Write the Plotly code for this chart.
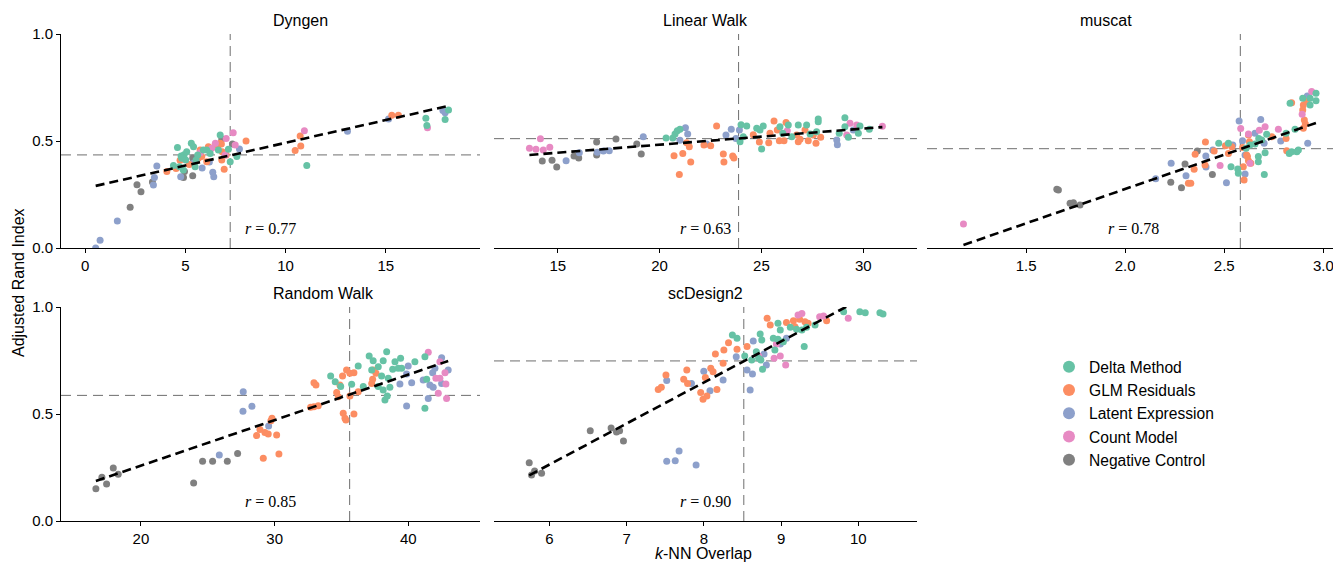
import plotly.graph_objects as go

W, H = 1341, 563

panels = ["Dyngen", "Linear Walk", "muscat", "Random Walk", "scDesign2"]
methods = ["Delta Method", "GLM Residuals", "Latent Expression", "Count Model", "Negative Control"]
method_colors = ["#66c2a5", "#fc8d62", "#8da0cb", "#e78ac3", "#808080"]

# ---------------- Dyngen ----------------
dyn_delta_x = [4.41, 4.61, 4.71, 4.79, 4.94, 5.02, 5.30, 5.41, 5.49, 5.54, 5.62, 6.07, 6.24, 6.74, 7.15, 7.24, 7.57,
               11.06, 17.00, 17.05, 17.96, 18.13, 4.90, 5.07, 5.90, 6.65, 4.82]
dyn_delta_y = [0.386, 0.470, 0.380, 0.430, 0.436, 0.411, 0.489, 0.473, 0.380, 0.411, 0.435, 0.458, 0.442, 0.528, 0.461,
               0.403, 0.427, 0.386, 0.606, 0.573, 0.601, 0.645, 0.364, 0.450, 0.458, 0.458, 0.419]
dyn_glm_x = [4.08, 4.54, 4.74, 5.20, 5.65, 5.74, 5.82, 6.07, 6.15, 6.49, 6.65, 6.74, 6.80, 6.82, 6.84, 6.94, 7.04, 8.03,
             10.48, 10.73, 10.76, 15.30, 15.63]
dyn_glm_y = [0.357, 0.372, 0.410, 0.390, 0.419, 0.458, 0.427, 0.403, 0.473, 0.481, 0.481, 0.489, 0.486, 0.411, 0.450,
             0.368, 0.435, 0.500, 0.456, 0.523, 0.477, 0.620, 0.620]
dyn_latent_x = [0.53, 0.75, 1.61, 3.41, 3.46, 3.58, 4.77, 5.41, 5.84, 6.20, 6.37, 6.42, 7.70, 13.09, 15.14, 17.85, 17.96]
dyn_latent_y = [0.000, 0.036, 0.126, 0.294, 0.330, 0.383, 0.333, 0.396, 0.374, 0.402, 0.354, 0.333, 0.463, 0.545, 0.603,
                0.642, 0.632]
dyn_count_x = [5.74, 6.32, 6.50, 6.99, 7.04, 7.39, 7.49, 10.94, 17.08]
dyn_count_y = [0.445, 0.466, 0.489, 0.435, 0.512, 0.539, 0.481, 0.548, 0.562]
dyn_neg_x = [2.25, 2.59, 2.79, 3.36, 4.91, 4.96, 5.37, 5.37, 6.82, 7.35]
dyn_neg_y = [0.190, 0.296, 0.263, 0.308, 0.330, 0.358, 0.338, 0.420, 0.509, 0.486]

# ---------------- Linear Walk ----------------
lin_delta_x = [20.32, 20.65, 20.76, 20.87, 21.00, 23.95, 24.00, 24.11, 24.28, 24.77, 24.93, 25.01, 25.09, 25.91, 26.05,
               26.32, 26.49, 26.81, 27.22, 27.39, 27.71, 27.79, 27.79, 28.82, 29.10, 29.10, 29.27, 29.76, 29.84, 30.30]
lin_delta_y = [0.514, 0.514, 0.533, 0.548, 0.555, 0.497, 0.576, 0.520, 0.570, 0.559, 0.551, 0.463, 0.570, 0.567, 0.536,
               0.575, 0.520, 0.575, 0.575, 0.533, 0.543, 0.603, 0.590, 0.536, 0.609, 0.567, 0.517, 0.536, 0.570, 0.555]
lin_glm_x = [20.71, 20.97, 21.14, 21.33, 21.46, 21.53, 22.18, 22.51, 22.80, 23.13, 23.16, 23.59, 23.65, 24.60, 24.90,
             25.36, 25.42, 25.62, 25.78, 25.88, 26.11, 26.21, 26.73, 26.81, 26.90, 27.14, 27.30, 27.55, 27.68, 27.91]
lin_glm_y = [0.431, 0.343, 0.442, 0.492, 0.473, 0.402, 0.481, 0.478, 0.570, 0.439, 0.402, 0.430, 0.421, 0.529, 0.495,
             0.492, 0.536, 0.593, 0.551, 0.501, 0.501, 0.586, 0.528, 0.497, 0.508, 0.551, 0.501, 0.528, 0.489, 0.517]
lin_latent_x = [15.41, 16.06, 16.94, 17.24, 17.53, 19.20, 21.00, 21.27, 21.38, 22.31, 23.26, 23.52, 23.75, 23.92, 28.70,
                28.73, 29.51]
lin_latent_y = [0.408, 0.445, 0.447, 0.453, 0.455, 0.520, 0.503, 0.562, 0.533, 0.486, 0.528, 0.555, 0.512, 0.551, 0.505,
                0.483, 0.551]
lin_count_x = [13.61, 13.93, 14.15, 14.29, 14.61, 26.27, 29.19, 29.35, 29.68, 30.94]
lin_count_y = [0.466, 0.461, 0.511, 0.458, 0.471, 0.548, 0.528, 0.583, 0.575, 0.569]
lin_neg_x = [14.24, 14.72, 14.95, 15.80, 16.03, 16.91, 16.91, 17.86, 18.88, 19.10]
lin_neg_y = [0.407, 0.410, 0.379, 0.430, 0.421, 0.495, 0.435, 0.509, 0.486, 0.439]

# ---------------- muscat ----------------
mus_delta_x = [2.472, 2.521, 2.534, 2.568, 2.571, 2.610, 2.630, 2.655, 2.672, 2.672, 2.674, 2.689, 2.702, 2.706, 2.714,
               2.812, 2.828, 2.840, 2.857, 2.866, 2.874, 2.832, 2.896, 2.933, 2.963, 2.963, 2.933]
mus_delta_y = [0.489, 0.489, 0.380, 0.369, 0.349, 0.466, 0.481, 0.486, 0.427, 0.403, 0.512, 0.505, 0.343, 0.445, 0.531,
               0.536, 0.442, 0.450, 0.555, 0.450, 0.458, 0.676, 0.700, 0.700, 0.723, 0.688, 0.668]
mus_glm_x = [2.319, 2.331, 2.348, 2.353, 2.403, 2.405, 2.449, 2.506, 2.521, 2.538, 2.593, 2.596, 2.600, 2.613, 2.617,
             2.622, 2.627, 2.634, 2.622, 2.740, 2.812, 2.815, 2.840, 2.899, 2.896, 2.904, 2.909, 2.916, 2.899]
mus_glm_y = [0.302, 0.302, 0.368, 0.438, 0.388, 0.495, 0.453, 0.478, 0.442, 0.473, 0.470, 0.380, 0.318, 0.435, 0.427,
             0.408, 0.497, 0.396, 0.528, 0.520, 0.512, 0.455, 0.679, 0.668, 0.645, 0.598, 0.579, 0.684, 0.559]
mus_latent_x = [2.154, 2.232, 2.307, 2.407, 2.408, 2.442, 2.511, 2.543, 2.575, 2.592, 2.605, 2.605, 2.655, 2.684,
                2.701, 2.785, 2.921, 2.919]
mus_latent_y = [0.324, 0.396, 0.338, 0.430, 0.379, 0.458, 0.305, 0.481, 0.593, 0.501, 0.435, 0.346, 0.536, 0.601,
                0.489, 0.500, 0.489, 0.710]
mus_count_x = [1.184, 2.479, 2.583, 2.622, 2.630, 2.677, 2.706, 2.773, 2.893, 2.941]
mus_count_y = [0.112, 0.386, 0.558, 0.533, 0.396, 0.550, 0.567, 0.555, 0.625, 0.731]
mus_neg_x = [1.655, 1.663, 1.722, 1.739, 1.772, 2.230, 2.284, 2.302, 2.364, 2.440]
mus_neg_y = [0.274, 0.271, 0.209, 0.212, 0.201, 0.307, 0.282, 0.393, 0.453, 0.344]

# ---------------- Random Walk ----------------
rw_delta_x = [34.19, 34.53, 34.94, 35.76, 36.25, 36.63, 37.07, 37.37, 37.26, 37.75, 37.75, 38.00, 38.12, 38.12, 38.25,
              38.38, 38.42, 38.50, 38.62, 38.83, 39.00, 39.24, 39.42, 39.50, 40.49, 41.24, 41.24, 41.37]
rw_delta_y = [0.678, 0.651, 0.628, 0.639, 0.724, 0.628, 0.771, 0.749, 0.706, 0.721, 0.628, 0.678, 0.749, 0.612, 0.565,
              0.791, 0.584, 0.667, 0.625, 0.709, 0.744, 0.714, 0.760, 0.714, 0.744, 0.768, 0.527, 0.662]
rw_glm_x = [28.65, 28.90, 29.15, 29.27, 29.52, 29.80, 29.72, 30.15, 30.32, 32.69, 32.94, 33.26, 32.94, 33.09, 34.64,
            34.76, 34.88, 35.08, 35.38, 35.63, 35.93, 35.13, 35.26, 35.33, 35.63, 35.93, 36.25, 37.33, 37.37, 37.26, 37.58]
rw_glm_y = [0.399, 0.428, 0.293, 0.413, 0.407, 0.480, 0.469, 0.402, 0.313, 0.531, 0.534, 0.539, 0.646, 0.636, 0.600,
            0.581, 0.636, 0.678, 0.706, 0.690, 0.693, 0.503, 0.480, 0.472, 0.584, 0.500, 0.604, 0.662, 0.706, 0.643, 0.690]
rw_latent_x = [25.86, 27.65, 27.63, 28.30, 29.55, 39.37, 39.87, 39.99, 39.87, 40.25, 41.11, 41.49, 41.61, 41.86, 41.82,
               41.99, 42.49, 42.49, 42.98]
rw_latent_y = [0.308, 0.604, 0.513, 0.536, 0.444, 0.640, 0.537, 0.724, 0.687, 0.646, 0.659, 0.573, 0.636, 0.625, 0.693,
               0.714, 0.763, 0.643, 0.706]
rw_count_x = [41.49, 42.06, 42.36, 42.24, 42.74, 42.81, 42.86, 42.36]
rw_count_y = [0.788, 0.667, 0.667, 0.597, 0.693, 0.640, 0.573, 0.744]
rw_neg_x = [16.63, 17.08, 17.43, 17.93, 18.30, 23.94, 24.61, 25.36, 26.46, 27.23]
rw_neg_y = [0.151, 0.204, 0.173, 0.248, 0.218, 0.178, 0.279, 0.279, 0.279, 0.316]

# ---------------- scDesign2 ----------------
scd_delta_x = [8.37, 8.43, 8.53, 8.62, 8.68, 8.73, 8.75, 8.76, 8.71, 8.74, 8.90, 8.92, 8.96, 8.99, 8.96, 9.03, 9.12,
               9.20, 9.27, 9.30, 9.33, 9.44, 9.81, 10.02, 10.09, 10.28, 10.32]
scd_delta_y = [0.869, 0.854, 0.771, 0.752, 0.791, 0.874, 0.846, 0.709, 0.760, 0.752, 0.854, 0.799, 0.924, 0.893, 0.849,
               0.838, 0.905, 0.896, 0.893, 0.815, 0.905, 0.916, 0.978, 0.978, 0.973, 0.973, 0.967]
scd_glm_x = [7.41, 7.45, 7.51, 7.74, 7.78, 7.79, 7.96, 7.99, 8.04, 8.02, 8.09, 8.12, 8.17, 8.15, 8.25, 8.26, 8.32, 8.43,
             8.56, 8.82, 8.86, 9.07, 9.16, 9.18, 9.24, 9.31, 9.35, 9.59]
scd_glm_y = [0.615, 0.625, 0.682, 0.662, 0.706, 0.643, 0.600, 0.569, 0.584, 0.671, 0.714, 0.698, 0.615, 0.780, 0.737,
             0.799, 0.833, 0.802, 0.815, 0.947, 0.916, 0.927, 0.936, 0.908, 0.943, 0.931, 0.924, 0.936]
scd_latent_x = [7.52, 7.63, 7.68, 7.90, 7.52, 7.84, 8.00, 8.08, 8.25, 8.42, 8.56, 8.60, 8.63, 8.64, 8.78, 8.81, 8.99, 9.07]
scd_latent_y = [0.279, 0.282, 0.327, 0.262, 0.656, 0.643, 0.700, 0.609, 0.659, 0.768, 0.706, 0.612, 0.687, 0.841, 0.780,
                0.729, 0.827, 0.854]
scd_count_x = [8.71, 8.91, 8.99, 9.06, 8.94, 9.22, 9.27, 9.50, 9.55, 9.87]
scd_count_y = [0.771, 0.760, 0.771, 0.729, 0.827, 0.963, 0.970, 0.955, 0.958, 0.947]
scd_neg_x = [5.74, 5.77, 5.81, 5.90, 6.53, 6.80, 6.87, 6.91, 6.96]
scd_neg_y = [0.272, 0.215, 0.234, 0.223, 0.422, 0.435, 0.416, 0.422, 0.374]

# ---------------- summary values ----------------
fit_slope = [0.02125, 0.00751, 0.3207, 0.02128, 0.1919]
fit_intercept = [0.279, 0.3326, -0.3657, -0.1669, -0.888]
mean_overlap = [7.24, 23.88, 2.581, 35.61, 8.518]
mean_ari = [0.435, 0.511, 0.464, 0.587, 0.748]
r_values = [0.77, 0.63, 0.78, 0.85, 0.90]

x_ranges = [[-1.2, 19.7], [11.87, 32.64], [1.0, 3.084], [14.02, 45.36], [5.284, 10.76]]
x_ticks = [[0, 5, 10, 15], [15, 20, 25, 30], [1.5, 2.0, 2.5, 3.0], [20, 30, 40], [6, 7, 8, 9, 10]]
x_tickfmt = ["d", "d", ".1f", "d", "d"]
y_ticks = [0.0, 0.5, 1.0]

panel_data = [
    [(dyn_delta_x, dyn_delta_y), (dyn_glm_x, dyn_glm_y), (dyn_latent_x, dyn_latent_y), (dyn_count_x, dyn_count_y), (dyn_neg_x, dyn_neg_y)],
    [(lin_delta_x, lin_delta_y), (lin_glm_x, lin_glm_y), (lin_latent_x, lin_latent_y), (lin_count_x, lin_count_y), (lin_neg_x, lin_neg_y)],
    [(mus_delta_x, mus_delta_y), (mus_glm_x, mus_glm_y), (mus_latent_x, mus_latent_y), (mus_count_x, mus_count_y), (mus_neg_x, mus_neg_y)],
    [(rw_delta_x, rw_delta_y), (rw_glm_x, rw_glm_y), (rw_latent_x, rw_latent_y), (rw_count_x, rw_count_y), (rw_neg_x, rw_neg_y)],
    [(scd_delta_x, scd_delta_y), (scd_glm_x, scd_glm_y), (scd_latent_x, scd_latent_y), (scd_count_x, scd_count_y), (scd_neg_x, scd_neg_y)],
]

# ---------------- layout geometry (screen pixels; page body adds an 8px offset) ----------------
OFF = 8
px_x = [(61, 480), (494, 917), (927, 1340), (61, 480), (494, 917)]
px_y = [(34, 248), (34, 248), (34, 248), (307, 521), (307, 521)]


def fx(px):
    return (px - OFF) / W


def fy(py):
    return 1 - (py - OFF) / H


FONT = "Liberation Sans, Arial, sans-serif"
SERIF = "Liberation Serif, DejaVu Serif, serif"

fig = go.Figure()
draw_order = [4, 2, 1, 3, 0]

for p in range(5):
    ax = "" if p == 0 else str(p + 1)
    xref, yref = "x" + ax, "y" + ax
    for m in draw_order:
        xs, ys = panel_data[p][m]
        fig.add_trace(go.Scatter(
            x=xs, y=ys, mode="markers", xaxis=xref, yaxis=yref,
            name=methods[m], legendgroup=methods[m], legendrank=m + 1,
            showlegend=(p == 0),
            marker=dict(color=method_colors[m], size=7, line=dict(width=0)),
        ))
    all_x = [v for xs, _ in panel_data[p] for v in xs]
    lx = [min(all_x), max(all_x)]
    ly = [fit_intercept[p] + fit_slope[p] * v for v in lx]
    fig.add_trace(go.Scatter(
        x=lx, y=ly, mode="lines", xaxis=xref, yaxis=yref, showlegend=False,
        line=dict(color="black", width=2.6, dash="9px,5px"), hoverinfo="skip",
    ))

    x0, x1 = px_x[p]
    y0, y1 = px_y[p]
    xdom = [fx(x0), fx(x1)]
    ydom = [fy(y1), fy(y0)]
    show_y = p in (0, 3)
    fig.update_layout(**{
        "xaxis" + ax: dict(
            domain=xdom, range=x_ranges[p], anchor=yref, tickvals=x_ticks[p], tickformat=x_tickfmt[p],
            showgrid=False, zeroline=False, showline=True, linecolor="black", linewidth=1,
            ticks="outside", ticklen=4, tickwidth=1, tickcolor="black", automargin=False,
            tickfont=dict(family=FONT, size=15, color="black"),
        ),
        "yaxis" + ax: dict(
            domain=ydom, range=[0, 1], anchor=xref, tickvals=y_ticks, tickformat=".1f",
            showgrid=False, zeroline=False, showline=show_y, linecolor="black", linewidth=1,
            ticks="outside" if show_y else "", ticklen=4, tickwidth=1, tickcolor="black", automargin=False,
            showticklabels=show_y, tickfont=dict(family=FONT, size=15, color="black"),
        ),
    })

    # mean reference lines
    fig.add_shape(type="line", layer="below", xref=xref, yref=yref + " domain",
                  x0=mean_overlap[p], x1=mean_overlap[p], y0=0, y1=1,
                  line=dict(color="#6e6e6e", width=1, dash="10px,6px"))
    fig.add_shape(type="line", layer="below", xref=xref + " domain", yref=yref,
                  x0=0, x1=1, y0=mean_ari[p], y1=mean_ari[p],
                  line=dict(color="#6e6e6e", width=1, dash="10px,6px"))

    # panel title
    fig.add_annotation(text=panels[p], xref="paper", yref="paper",
                       x=(xdom[0] + xdom[1]) / 2, y=ydom[1], yanchor="bottom", yshift=3,
                       showarrow=False, font=dict(family=FONT, size=16, color="black"))
    # correlation label
    fig.add_annotation(text="<i>r</i> = %.2f" % r_values[p], xref=xref + " domain", yref=yref + " domain",
                       x=0.5, y=0.093, xanchor="center", yanchor="middle", showarrow=False,
                       font=dict(family=SERIF, size=16, color="black"))

# axis labels
fig.add_annotation(text="<i>k</i>-NN Overlap", xref="paper", yref="paper", x=fx(704), y=fy(553),
                   xanchor="center", yanchor="middle", showarrow=False,
                   font=dict(family=FONT, size=16, color="black"))
fig.add_annotation(text="Adjusted Rand Index", xref="paper", yref="paper", x=fx(18), y=fy(283),
                   xanchor="center", yanchor="middle", textangle=-90, showarrow=False,
                   font=dict(family=FONT, size=16, color="black"))

fig.update_layout(
    width=W, height=H,
    margin=dict(l=0, r=0, t=0, b=0, autoexpand=False),
    paper_bgcolor="white", plot_bgcolor="white",
    showlegend=True,
    legend=dict(x=fx(1049), y=fy(350), xanchor="left", yanchor="top",
                font=dict(family=FONT, size=15.6, color="black"),
                bgcolor="rgba(0,0,0,0)", borderwidth=0, traceorder="normal", itemsizing="constant"),
)

fig.write_html("out.html")
